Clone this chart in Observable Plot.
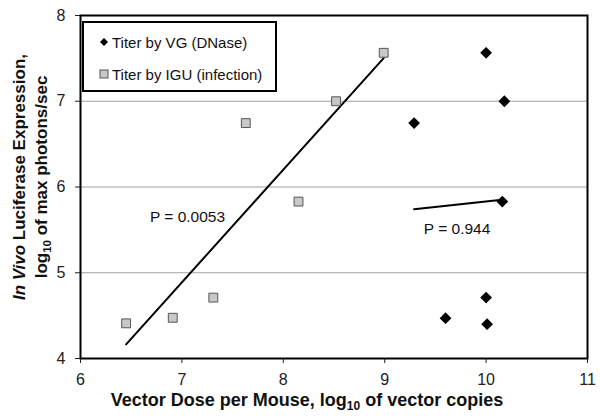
<!DOCTYPE html>
<html><head><meta charset="utf-8">
<script src="https://cdn.jsdelivr.net/npm/d3@7"></script>
<script src="https://cdn.jsdelivr.net/npm/@observablehq/plot@0.6"></script>
<style>body{margin:0;background:#fff} #chart{width:600px;height:419px}</style>
</head><body><div id="chart"></div>
<script>
// Data
const vgDose = [10.0, 10.18, 9.29, 10.16, 10.0, 9.6, 10.01];
const vgExpr = [7.565, 7.0, 6.745, 5.83, 4.71, 4.47, 4.40];
const iguDose = [6.45, 6.91, 7.31, 7.63, 8.15, 8.52, 8.99];
const iguExpr = [4.41, 4.475, 4.71, 6.745, 5.83, 7.0, 7.565];
const xTicks = [6, 7, 8, 9, 10, 11];
const yTicks = [4, 5, 6, 7, 8];
const gridValues = [5, 6, 7];
const seriesNames = ["Titer by VG (DNase)", "Titer by IGU (infection)"];
const pLabels = ["P = 0.0053", "P = 0.944"];
const pX = [7.055, 9.714];
const pY = [5.644, 5.512];

const vg = vgDose.map((x, i) => ({x, y: vgExpr[i]}));
const igu = iguDose.map((x, i) => ({x, y: iguExpr[i]}));
const pData = pLabels.map((label, i) => ({label, x: pX[i], y: pY[i]}));

const FONT = "'Liberation Sans', Arial, sans-serif";

const svgNode = Plot.plot({
  width: 600, height: 419,
  marginLeft: 80, marginRight: 13, marginTop: 15, marginBottom: 61,
  style: {fontFamily: FONT, background: "#fff", overflow: "visible"},
  x: {domain: [6, 11]},
  y: {domain: [4, 8]},
  marks: [
    Plot.gridY(gridValues, {stroke: "#a0a0a0", strokeOpacity: 1, strokeWidth: 1}),
    Plot.linearRegressionY(igu, {x: "x", y: "y", ci: 0, stroke: "#000", strokeWidth: 2}),
    Plot.linearRegressionY(vg, {x: "x", y: "y", ci: 0, stroke: "#000", strokeWidth: 2}),
    Plot.dot(igu, {x: "x", y: "y", symbol: "square", r: 5, fill: "#c8c8c8", stroke: "#555", strokeWidth: 1}),
    Plot.dot(vg, {x: "x", y: "y", symbol: "diamond2", r: 5.3, fill: "#000", stroke: "none"}),
    Plot.text(pData, {x: "x", y: "y", text: "label", fontSize: 15.5, fill: "#111"}),
    Plot.axisX(xTicks, {tickSize: 5, tickPadding: 10, fontSize: 16, label: null, color: "#222", tickFormat: d => String(d)}),
    Plot.axisY(yTicks, {tickSize: 5, tickPadding: 10, fontSize: 16, label: null, color: "#222", tickFormat: d => String(d)}),
    Plot.frame({stroke: "#000", strokeWidth: 2})
  ]
});

document.getElementById("chart").appendChild(svgNode);
const svg = d3.select(svgNode);

// Axis titles
const xt = svg.append("text")
  .attr("x", 307).attr("y", 406)
  .attr("text-anchor", "middle")
  .attr("font-family", FONT).attr("font-weight", "bold").attr("font-size", 18).attr("fill", "#111");
xt.append("tspan").text("Vector Dose per Mouse, log");
xt.append("tspan").attr("font-size", 12).attr("dy", 4).text("10");
xt.append("tspan").attr("dy", -4).text(" of vector copies");

const yg = svg.append("g").attr("transform", "translate(0,177) rotate(-90)");
const y1 = yg.append("text").attr("x", 0).attr("y", 24.5)
  .attr("text-anchor", "middle")
  .attr("font-family", FONT).attr("font-weight", "bold").attr("font-size", 17).attr("fill", "#111");
y1.append("tspan").attr("font-style", "italic").text("In Vivo");
y1.append("tspan").text(" Luciferase Expression,");
const y2 = yg.append("text").attr("x", 0).attr("y", 47)
  .attr("text-anchor", "middle")
  .attr("font-family", FONT).attr("font-weight", "bold").attr("font-size", 17).attr("fill", "#111");
y2.append("tspan").text("log");
y2.append("tspan").attr("font-size", 11.5).attr("dy", 4).text("10");
y2.append("tspan").attr("dy", -4).text(" of max photons/sec");

// Legend
const lg = svg.append("g");
lg.append("rect").attr("x", 83).attr("y", 22).attr("width", 193).attr("height", 69)
  .attr("fill", "#fff").attr("stroke", "#000").attr("stroke-width", 2);
lg.append("path").attr("d", "M104,38 L108,42 L104,46 L100,42 Z").attr("fill", "#000");
lg.append("rect").attr("x", 100).attr("y", 70).attr("width", 8).attr("height", 8)
  .attr("fill", "#c8c8c8").attr("stroke", "#555").attr("stroke-width", 1);
seriesNames.forEach((name, i) => {
  lg.append("text").attr("x", 112).attr("y", 47.5 + i * 32)
    .attr("text-anchor", "start")
    .attr("font-family", FONT).attr("font-size", 15).attr("fill", "#111").text(name);
});
</script>
</body></html>
